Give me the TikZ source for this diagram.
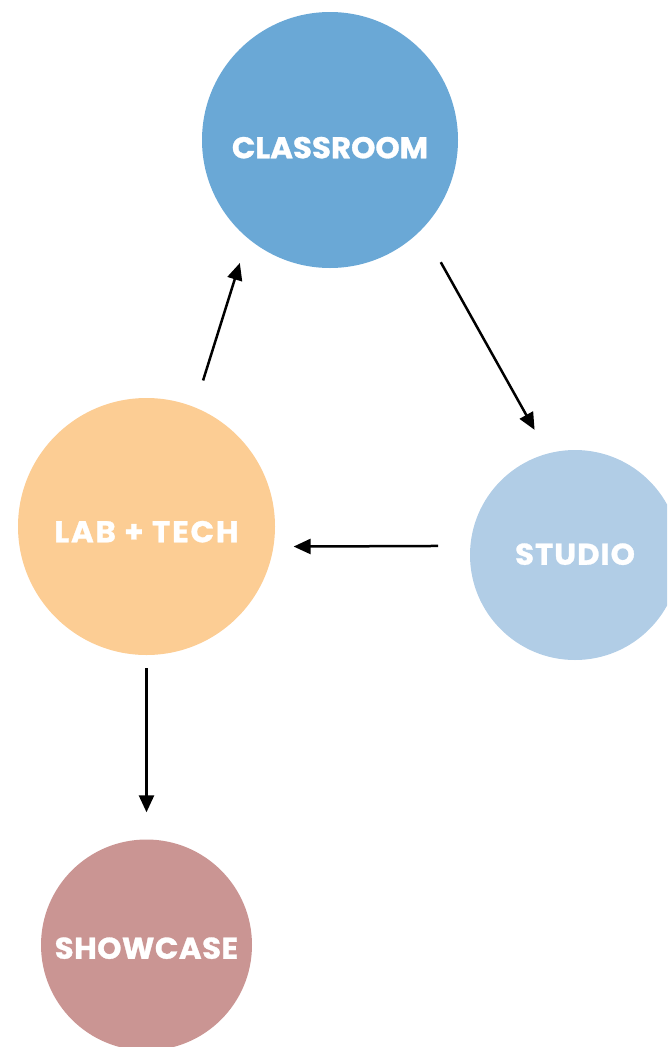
\documentclass[tikz,border=0pt]{standalone}
\usepackage{fontspec}
\setmainfont{Poppins}[FakeStretch=1.03]
\usetikzlibrary{arrows.meta}
\definecolor{classblue}{HTML}{6AA8D6}
\definecolor{studioblue}{HTML}{B1CDE6}
\definecolor{labyellow}{HTML}{FCCD94}
\definecolor{showrose}{HTML}{CA9593}
\newcommand{\stagefont}[1]{\fontsize{30}{32}\selectfont\bfseries\addfontfeatures{LetterSpace=#1,FakeBold=1}}
\tikzstyle{stage}=[circle,inner sep=0pt,text=white,text depth=0pt]
\tikzstyle{line} = [draw, line width=2.5pt, -{Triangle[length=17pt,width=15pt]}]

\begin{document}
\begin{tikzpicture}[x=1pt,y=-1pt]
  \clip (0,0) rectangle (667,1047);
  \useasboundingbox (0,0) rectangle (667,1047);
  \node[stage,fill=classblue,minimum size=256pt,text height=36.5pt,font=\stagefont{0}] (classroom) at (330,140) {CLASSROOM};
  \node[stage,fill=studioblue,minimum size=210pt,text height=19.5pt,font=\stagefont{3.3}] (studio) at (575,555) {STUDIO};
  \node[stage,fill=labyellow,minimum size=257pt,text height=31.5pt,font=\stagefont{6}] (lab) at (146.5,526.5) {LAB + TECH};
  \node[stage,fill=showrose,minimum size=211pt,text height=27.5pt,font=\stagefont{1.5}] (showcase) at (146.5,945) {SHOWCASE};
  % arrows
  \draw[line,shorten <=28pt,shorten >=26pt] (lab.68.6) -- (classroom.230.2);
  \draw[line,shorten <=38pt,shorten >=27pt] (classroom.-44.4) -- (studio.105.8);
  \draw[line,shorten <=32pt,shorten >=20pt] (studio.175.6) -- (lab.-9.2);
  \draw[line,shorten <=13pt,shorten >=27pt] (lab.south) -- (showcase.north);
\end{tikzpicture}
\end{document}
